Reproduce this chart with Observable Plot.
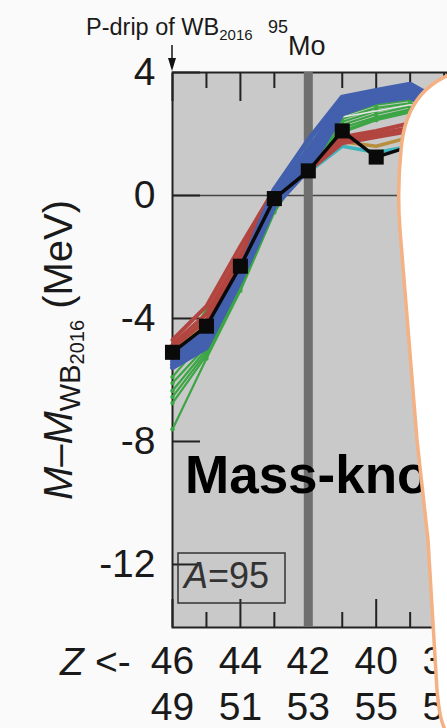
<!DOCTYPE html>
<html>
<head>
<meta charset="utf-8">
<script src="https://cdn.jsdelivr.net/npm/d3@7"></script>
<script src="https://cdn.jsdelivr.net/npm/@observablehq/plot@0.6"></script>
<style>
  html, body { margin: 0; padding: 0; background: #fafafa; }
  #chart { position: relative; width: 447px; height: 728px; overflow: hidden; }
</style>
</head>
<body>
<div id="chart"></div>
<script>
// ---------------- data ----------------
const massNumber = 95;
const zValues = [46, 45, 44, 43, 42, 41, 40, 39, 38];
const yTickValues = [4, 0, -4, -8, -12];
const xLabelValues = [46, 44, 42, 40, 38];
const xMajorTicks = [46, 44, 40, 38];
const xMinorTicks = [45, 43, 41, 39];
const referenceZ = 42;

// black reference curve (squares)
const blackSeries = [-5.1, -4.25, -2.3, -0.1, 0.8, 2.1, 1.25, 1.6, 1.9];

// blue model family
const blue1 = [-5.2, -4.4, -2.4, 0.2, 1.8, 3.2, 3.42, 3.62, 3.0];
const blue2 = [-5.3, -4.55, -2.5, 0.05, 1.5, 3.05, 3.3, 3.5, 2.9];
const blue3 = [-5.4, -4.7, -2.6, -0.1, 1.25, 2.9, 3.2, 3.38, 2.8];
const blue4 = [-5.5, -4.85, -2.7, -0.25, 1.0, 2.75, 3.12, 3.28, 2.7];
const blue5 = [-5.6, -4.95, -2.78, -0.35, 0.85, 2.65, 3.05, 3.2, 2.6];

// red model family
const red1 = [-4.7, -3.6, -1.65, 0.2, 1.0, 1.9, 2.1, 2.35, 2.3];
const red2 = [-4.85, -3.85, -1.9, 0.05, 0.9, 1.8, 2.0, 2.2, 2.2];
const red3 = [-4.95, -4.05, -2.1, -0.05, 0.8, 1.7, 1.9, 2.1, 2.1];

// green model family
const green1 = [-5.5, -3.7, -2.65, -0.2, 1.6, 2.6, 2.95, 3.1, 2.9];
const green2 = [-5.9, -4.6, -2.75, -0.3, 1.45, 2.5, 2.85, 3.0, 2.8];
const green3 = [-6.1, -4.9, -2.85, -0.35, 1.35, 2.4, 2.75, 2.95, 2.7];
const green4 = [-6.35, -5.0, -2.9, -0.4, 1.3, 2.3, 2.65, 2.9, 2.6];
const green5 = [-6.55, -5.1, -2.95, -0.45, 1.2, 2.2, 2.55, 2.8, 2.5];
const green6 = [-6.75, -5.2, -3.0, -0.5, 1.15, 2.1, 2.5, 2.75, 2.4];
const green7 = [-7.6, -5.3, -3.1, -0.55, 1.1, 2.05, 2.45, 2.7, 2.3];

// light (white) model line
const light1 = [null, null, null, null, 1.5, 2.55, 2.75, 2.95, 2.8];

// brown and cyan models
const brown1 = [-5.0, -4.1, -2.2, -0.05, 0.8, 1.75, 1.6, 1.9, 2.0];
const cyan1 = [-5.05, -4.2, -2.25, -0.1, 0.75, 1.6, 1.4, 1.6, 1.7];

// ---------------- build tables ----------------
function toRows(name, values) {
  return values.map((v, i) => ({series: name, z: zValues[i], value: v}));
}
const blueRows = [blue1, blue2, blue3, blue4, blue5].flatMap((s, i) => toRows("blue" + i, s));
const redRows = [red1, red2, red3].flatMap((s, i) => toRows("red" + i, s));
const greenRows = [green1, green2, green3, green4, green5, green6, green7].flatMap((s, i) => toRows("green" + i, s));
const lightRows = toRows("light", light1);
const brownRows = toRows("brown", brown1);
const cyanRows = toRows("cyan", cyan1);
const blackRows = toRows("black", blackSeries);

const colors = {
  blue: "#4360ae", red: "#b2453f", green: "#3ca544", light: "#e4e4e4",
  brown: "#b88f3e", cyan: "#3fb4bd", black: "#0a0a0a"
};
const FONT = "'Liberation Sans', Arial, Helvetica, sans-serif";

const lineOpts = (stroke, w) => ({x: "z", y: "value", z: "series", stroke, strokeWidth: w,
  strokeLinejoin: "round", strokeLinecap: "round", defined: d => d.value != null});

const plot = Plot.plot({
  width: 447,
  height: 728,
  marginTop: 72,
  marginBottom: 101,
  marginLeft: 172,
  marginRight: 0,
  x: {domain: [46, 37.9]},
  y: {domain: [-14.05, 4]},
  style: {fontFamily: FONT, background: "#fafafa", color: "#1a1a1a", overflow: "hidden"},
  marks: [
    Plot.frame({fill: "#c9c9c9", stroke: "#222", strokeWidth: 2}),
    Plot.ruleY([0], {stroke: "#454545", strokeWidth: 1.6}),
    // inward ticks
    Plot.axisY(yTickValues, {tickSize: -28, strokeWidth: 2, stroke: "#222", tickFormat: () => "", label: null}),
    Plot.axisX(xMajorTicks, {anchor: "top", tickSize: -28, strokeWidth: 2, stroke: "#222", tickFormat: () => "", label: null}),
    Plot.axisX(xMinorTicks, {anchor: "top", tickSize: -15, strokeWidth: 2, stroke: "#222", tickFormat: () => "", label: null}),
    Plot.axisX(xMajorTicks, {anchor: "bottom", tickSize: -28, strokeWidth: 2, stroke: "#222", tickFormat: () => "", label: null}),
    Plot.axisX(xMinorTicks, {anchor: "bottom", tickSize: -15, strokeWidth: 2, stroke: "#222", tickFormat: () => "", label: null}),
    // tick labels
    Plot.axisY(yTickValues, {tickSize: 0, tickPadding: 17, fontSize: 39, fill: "#1a1a1a", tickFormat: d => String(d), label: null}),
    Plot.axisX(xLabelValues, {anchor: "bottom", tickSize: 0, tickPadding: 19, fontSize: 39, fill: "#1a1a1a", tickFormat: d => String(d), label: null}),
    Plot.axisX(xLabelValues, {anchor: "bottom", tickSize: 0, tickPadding: 65, fontSize: 39, fill: "#1a1a1a", tickFormat: d => String(massNumber - d), label: null}),
    // reference band at Z=42
    Plot.ruleX([referenceZ], {stroke: "#6f6f6f", strokeWidth: 9}),
    // model lines
    Plot.line(greenRows, lineOpts(colors.green, 2.2)),
    Plot.dot(greenRows, {x: "z", y: "value", r: 2.2, fill: colors.green}),
    Plot.line(lightRows, lineOpts(colors.light, 1.5)),
    Plot.line(cyanRows, lineOpts(colors.cyan, 3.5)),
    Plot.line(brownRows, lineOpts(colors.brown, 3.5)),
    Plot.line(redRows, lineOpts(colors.red, 4)),
    Plot.line(blueRows, lineOpts(colors.blue, 5)),
    Plot.line(blackRows, lineOpts(colors.black, 3.5)),
    Plot.dot(blackRows, {x: "z", y: "value", symbol: "square", r: 8.5, fill: colors.black})
  ]
});

document.getElementById("chart").appendChild(plot);

// ---------------- annotations ----------------
const svg = d3.select(plot);
const xs = plot.scale("x");
const x46 = xs.apply(46);

const ann = svg.append("g").attr("font-family", FONT).attr("text-anchor", "start");

// "A=95" box
ann.append("rect").attr("x", x46 + 6).attr("y", 553).attr("width", 107).attr("height", 50)
  .attr("fill", "none").attr("stroke", "#333").attr("stroke-width", 1.5);
const aText = ann.append("text").attr("x", x46 + 12).attr("y", 588).attr("font-size", 36).attr("fill", "#333");
aText.append("tspan").attr("font-style", "italic").text("A");
aText.append("tspan").text("=" + massNumber);

// "Mass-known" label (partly hidden under the callout)
ann.append("text").attr("x", 185).attr("y", 493).attr("font-size", 53).attr("font-weight", "bold")
  .attr("fill", "#000").text("Mass-known");

// Z <- label
const zl = ann.append("text").attr("y", 675).attr("font-size", 39).attr("fill", "#1a1a1a");
zl.append("tspan").attr("x", 60).attr("font-style", "italic").text("Z");
zl.append("tspan").attr("x", 95).text("<-");

// y-axis title
const yt = ann.append("text").attr("transform", "translate(72,350) rotate(-90)")
  .attr("text-anchor", "middle").attr("font-size", 40).attr("fill", "#1a1a1a");
yt.append("tspan").attr("font-style", "italic").text("M");
yt.append("tspan").text("\u2013");
yt.append("tspan").attr("font-style", "italic").text("M");
yt.append("tspan").attr("font-size", 29).attr("dy", 8).text("WB");
yt.append("tspan").attr("font-size", 20).attr("dy", 4).text("2016");
yt.append("tspan").attr("dy", -12).text(" (MeV)");

// top annotation: P-drip of WB2016 and 95Mo
const pt = ann.append("text").attr("x", 86).attr("y", 35).attr("font-size", 23.5).attr("fill", "#1a1a1a");
pt.append("tspan").text("P-drip of WB");
pt.append("tspan").attr("font-size", 15).attr("dy", 5).text("2016");
const mo = ann.append("text").attr("x", 268).attr("y", 33).attr("fill", "#1a1a1a");
mo.append("tspan").attr("font-size", 18).text(String(massNumber));
mo.append("tspan").attr("font-size", 27).attr("dy", 22).text("Mo");

// arrow pointing to Z=46
ann.append("line").attr("x1", x46).attr("x2", x46).attr("y1", 45).attr("y2", 64)
  .attr("stroke", "#111").attr("stroke-width", 1.5);
ann.append("path").attr("d", `M${x46 - 4},58 L${x46 + 4},58 L${x46},71 Z`).attr("fill", "#111");

// callout overlay
ann.append("path")
  .attr("d", "M 462,70 C 430,80 405,100 401,150 C 398,180 398,205 400,230 L 417,440 L 428,540 L 437,690 C 439,712 441,722 446,732 L 470,732 L 470,70 Z")
  .attr("fill", "#ffffff").attr("stroke", "#f4b183").attr("stroke-width", 3.5);
</script>
</body>
</html>
